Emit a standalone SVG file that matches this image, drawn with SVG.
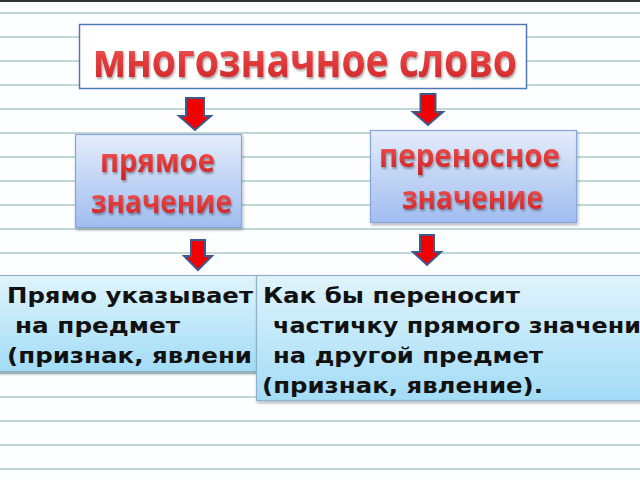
<svg xmlns="http://www.w3.org/2000/svg" width="640" height="480" viewBox="0 0 640 480">
<defs>
<linearGradient id="redText" x1="0" y1="0" x2="0" y2="1">
<stop offset="0" stop-color="#f7a4a4"/>
<stop offset="0.45" stop-color="#e6403f"/>
<stop offset="1" stop-color="#c81e22"/>
</linearGradient>
<linearGradient id="blueBox" x1="0" y1="0" x2="0" y2="1">
<stop offset="0" stop-color="#e4ecfa"/>
<stop offset="1" stop-color="#a0bdf0"/>
</linearGradient>
<linearGradient id="cyanBox" x1="0" y1="0" x2="0" y2="1">
<stop offset="0" stop-color="#e0f4fc"/>
<stop offset="1" stop-color="#a2dcf6"/>
</linearGradient>
<filter id="shadow" x="-10%" y="-10%" width="130%" height="140%">
<feDropShadow dx="1" dy="2" stdDeviation="1.5" flood-color="#000" flood-opacity="0.3"/>
</filter>
<filter id="tshadow" filterUnits="userSpaceOnUse" x="0" y="0" width="640" height="480">
<feDropShadow dx="1" dy="2" stdDeviation="1.2" flood-color="#000" flood-opacity="0.35"/>
</filter>
</defs>
<style>
.ruled{stroke:#bfd8d8;stroke-width:2}
.title{font-family:"Open Sans","DejaVu Sans",sans-serif;font-weight:bold;fill:url(#redText);filter:url(#tshadow)}
.mid{fill:url(#blueBox);stroke:#86a6d8;stroke-width:1.2;filter:url(#shadow)}
.low{fill:url(#cyanBox);stroke:#8fb2cc;stroke-width:1.2;filter:url(#shadow)}
.body{font-family:"DejaVu Sans","Verdana",sans-serif;font-weight:bold;font-size:21.5px;fill:#111}
.arrow{fill:#f20000;stroke:#3b5a8e;stroke-width:2;stroke-linejoin:miter}
</style>
<rect x="0" y="0" width="640" height="480" fill="#fdfeff"/>
<rect x="0" y="0" width="640" height="2" fill="#333"/>
<g id="ruling">
<line class="ruled" x1="0" y1="13" x2="640" y2="13"/>
<line class="ruled" x1="0" y1="37" x2="640" y2="37"/>
<line class="ruled" x1="0" y1="61" x2="640" y2="61"/>
<line class="ruled" x1="0" y1="85" x2="640" y2="85"/>
<line class="ruled" x1="0" y1="109" x2="640" y2="109"/>
<line class="ruled" x1="0" y1="133" x2="640" y2="133"/>
<line class="ruled" x1="0" y1="157" x2="640" y2="157"/>
<line class="ruled" x1="0" y1="181" x2="640" y2="181"/>
<line class="ruled" x1="0" y1="205" x2="640" y2="205"/>
<line class="ruled" x1="0" y1="229" x2="640" y2="229"/>
<line class="ruled" x1="0" y1="253" x2="640" y2="253"/>
<line class="ruled" x1="0" y1="277" x2="640" y2="277"/>
<line class="ruled" x1="0" y1="301" x2="640" y2="301"/>
<line class="ruled" x1="0" y1="325" x2="640" y2="325"/>
<line class="ruled" x1="0" y1="349" x2="640" y2="349"/>
<line class="ruled" x1="0" y1="373" x2="640" y2="373"/>
<line class="ruled" x1="0" y1="397" x2="640" y2="397"/>
<line class="ruled" x1="0" y1="421" x2="640" y2="421"/>
<line class="ruled" x1="0" y1="445" x2="640" y2="445"/>
<line class="ruled" x1="0" y1="469" x2="640" y2="469"/>
</g>
<g id="connectors">
<path class="arrow" d="M186,98 H204 V116 H211 L195,130 L179,116 H186 Z"/>
<path class="arrow" d="M420.5,94 H435.5 V112 H443 L428,125 L413,112 H420.5 Z"/>
<path class="arrow" d="M191,240 H205 V256 H212 L198,270 L184,256 H191 Z"/>
<path class="arrow" d="M420,235 H434 V252 H441 L427,265 L413,252 H420 Z"/>
</g>
<g id="node-word">
<rect x="79.5" y="24.5" width="447" height="64" fill="#ffffff" stroke="#4f78b6" stroke-width="1.5"/>
<text class="title" x="93" y="77" font-size="47" textLength="424" lengthAdjust="spacingAndGlyphs">многозначное слово</text>
</g>
<g id="node-direct">
<rect class="mid" x="75.5" y="134.5" width="166" height="93"/>
<text class="title" x="100" y="172" font-size="32" textLength="115" lengthAdjust="spacingAndGlyphs">прямое</text>
<text class="title" x="91" y="213" font-size="32" textLength="141" lengthAdjust="spacingAndGlyphs">значение</text>
</g>
<g id="node-figurative">
<rect class="mid" x="370.5" y="130.5" width="206" height="92"/>
<text class="title" x="379" y="167" font-size="32" textLength="181" lengthAdjust="spacingAndGlyphs">переносное</text>
<text class="title" x="402" y="209" font-size="32" textLength="141" lengthAdjust="spacingAndGlyphs">значение</text>
</g>
<g id="node-direct-desc">
<rect class="low" x="-2" y="275.5" width="260" height="96"/>
<text class="body" x="7" y="303" textLength="246" lengthAdjust="spacingAndGlyphs">Прямо указывает</text>
<text class="body" x="15" y="333" textLength="165" lengthAdjust="spacingAndGlyphs">на предмет</text>
<text class="body" x="7" y="363" textLength="245" lengthAdjust="spacingAndGlyphs">(признак, явлени</text>
</g>
<g id="node-figurative-desc">
<rect class="low" x="256.5" y="275.5" width="400" height="125"/>
<text class="body" x="263" y="303" textLength="257" lengthAdjust="spacingAndGlyphs">Как бы переносит</text>
<text class="body" x="273" y="333" textLength="368" lengthAdjust="spacingAndGlyphs">частичку прямого значени</text>
<text class="body" x="273" y="363" textLength="270" lengthAdjust="spacingAndGlyphs">на другой предмет</text>
<text class="body" x="262" y="393" textLength="281" lengthAdjust="spacingAndGlyphs">(признак, явление).</text>
</g>
</svg>
